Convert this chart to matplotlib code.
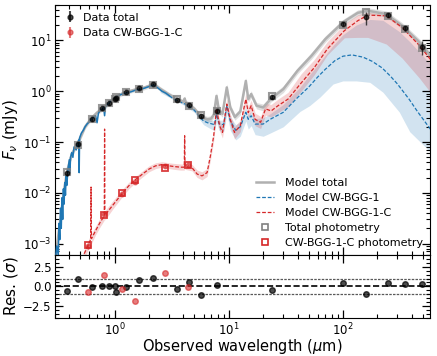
import numpy as np
import matplotlib
matplotlib.use("Agg")
import matplotlib.pyplot as plt
from matplotlib.ticker import MultipleLocator, LogLocator, NullFormatter
from matplotlib.lines import Line2D

# ---- model: total (grey) ----
tot_mod_wl = [0.30, 0.33, 0.36, 0.38, 0.42, 0.48, 0.55, 0.62, 0.7, 0.78, 0.9, 1.0, 1.2, 1.5, 1.8,
              2.2, 2.5, 3.0, 3.5, 4.0, 4.1, 4.2, 4.5, 5.0, 5.5, 6.0, 6.5, 7.0, 7.4, 7.8, 8.2, 8.8,
              9.6, 10.3, 11.3, 12.6, 14.1, 14.8, 15.7, 17.5, 20, 23.5, 30, 40, 53, 70, 100, 135,
              165, 240, 330, 470, 620]
tot_mod = [4.5e-4, 2.5e-3, 0.011, 0.025, 0.058, 0.1, 0.2, 0.29, 0.38, 0.46, 0.6, 0.76, 0.93, 1.07, 1.17,
           1.38, 1.12, 0.86, 0.71, 0.62, 0.72, 0.6, 0.55, 0.45, 0.35, 0.3, 0.28, 0.29, 0.35, 0.81, 0.42, 0.36,
           1.19, 0.48, 0.31, 0.4, 1.6, 0.7, 0.88, 0.52, 0.48, 0.72, 1.1, 2.54, 5.0, 10.6, 22.8, 35,
           38.6, 33, 19.5, 9.2, 4.3]
tot_mod_lo = [3.8e-4, 2.1e-3, 0.0095, 0.022, 0.051, 0.088, 0.18, 0.26, 0.34, 0.41, 0.54, 0.69, 0.85, 0.97, 1.06,
              1.25, 1.01, 0.78, 0.64, 0.56, 0.64, 0.54, 0.49, 0.4, 0.31, 0.26, 0.245, 0.255, 0.3, 0.68, 0.36, 0.31,
              1.0, 0.41, 0.27, 0.34, 1.35, 0.6, 0.75, 0.45, 0.41, 0.62, 0.94, 2.2, 4.3, 9.2, 20, 31,
              34, 29, 17, 8.0, 3.7]
tot_mod_hi = [5.3e-4, 2.9e-3, 0.013, 0.028, 0.065, 0.112, 0.22, 0.32, 0.42, 0.51, 0.66, 0.84, 1.02, 1.18, 1.29,
              1.52, 1.24, 0.95, 0.79, 0.69, 0.81, 0.67, 0.61, 0.5, 0.39, 0.34, 0.32, 0.33, 0.4, 0.95, 0.48, 0.41,
              1.4, 0.55, 0.36, 0.46, 1.85, 0.8, 1.02, 0.6, 0.56, 0.83, 1.27, 2.9, 5.8, 12.3, 26, 40,
              44, 38, 22.5, 10.7, 5.0]

# ---- model: CW-BGG-1 (blue) ----
blue_wl = [0.30, 0.31, 0.32, 0.325, 0.33, 0.335, 0.34, 0.345, 0.35, 0.355, 0.36, 0.365, 0.37, 0.375,
           0.38, 0.39, 0.40, 0.405, 0.41, 0.42, 0.43, 0.44, 0.46, 0.47, 0.485, 0.488, 0.492, 0.51,
           0.53, 0.55, 0.575, 0.6, 0.65, 0.68, 0.7, 0.72, 0.75, 0.78, 0.8, 0.815, 0.83, 0.87, 0.9,
           0.95, 1.0, 1.1, 1.2, 1.3, 1.4, 1.5, 1.6, 1.7, 1.8, 2.0, 2.2, 2.4, 2.6, 2.8, 3.0,
           3.3, 3.6, 4.0, 4.5, 5.0, 5.5, 6.0, 6.5, 7.0, 7.5, 7.8, 8.2, 9.0, 9.6, 10.3, 11.5,
           12.6, 14.1, 14.8, 15.7, 17, 20, 23, 30, 40, 50, 60, 70, 85, 100, 120, 150, 180, 220,
           260, 300, 380, 450, 620]
blue_mod = [4e-4, 9e-4, 6e-4, 2.5e-3, 1.2e-3, 5e-3, 2e-3, 8e-3, 3e-3, 0.012, 0.006, 0.016, 0.009, 0.022,
            0.014, 0.03, 0.045, 0.025, 0.05, 0.062, 0.05, 0.08, 0.07, 0.095, 0.11, 0.025, 0.12, 0.15,
            0.17, 0.2, 0.23, 0.25, 0.31, 0.33, 0.24, 0.37, 0.42, 0.45, 0.48, 0.33, 0.5, 0.56, 0.6,
            0.68, 0.75, 0.84, 0.9, 0.94, 0.98, 1.04, 1.08, 1.1, 1.14, 1.24, 1.33, 1.15, 1.0, 0.92, 0.82,
            0.7, 0.64, 0.58, 0.51, 0.42, 0.32, 0.26, 0.24, 0.23, 0.22, 0.355, 0.23, 0.22, 0.52, 0.26, 0.17,
            0.2, 0.385, 0.28, 0.33, 0.226, 0.226, 0.28, 0.385, 0.75, 1.2, 1.9, 2.7, 4.0, 4.9, 5.2, 4.7, 3.9, 2.9,
            2.0, 1.4, 0.7, 0.4, 0.15]
blue_band_wl = [2.5, 3.0, 4.0, 5.0, 6.0, 7.0, 7.5, 7.8, 8.2, 9.0, 9.6, 10.3, 11.5, 12.6, 14.1, 14.8,
                15.7, 17, 20, 23, 30, 42, 51, 63, 82, 100, 130, 172, 224, 312, 385, 550, 620]
blue_lo = [0.95, 0.76, 0.54, 0.38, 0.22, 0.18, 0.17, 0.25, 0.17, 0.16, 0.36, 0.17, 0.11, 0.13, 0.26, 0.18,
           0.21, 0.14, 0.13, 0.15, 0.2, 0.4, 0.52, 0.77, 1.39, 1.6, 1.6, 1.5, 0.96, 0.39, 0.16, 0.073, 0.055]
blue_hi = [1.1, 0.88, 0.62, 0.45, 0.29, 0.27, 0.26, 0.42, 0.27, 0.27, 0.6, 0.31, 0.22, 0.25, 0.48, 0.34,
           0.4, 0.29, 0.3, 0.36, 0.55, 1.2, 2.1, 3.8, 8.0, 13, 20, 26, 25, 15, 9.5, 4.0, 3.0]

# ---- model: CW-BGG-1-C (red) ----
red_mod_wl = [0.50, 0.54, 0.585, 0.615, 0.62, 0.625, 0.68, 0.75, 0.81, 0.815, 0.82, 0.955, 1.17, 1.33,
              1.5, 1.75, 2.0, 2.28, 2.6, 3.0, 3.3, 3.77, 4.07, 4.1, 4.13, 4.77, 5.28, 5.82, 6.45, 6.9,
              7.37, 7.8, 8.3, 8.8, 9.6, 10.3, 11.2, 12.6, 14.1, 14.8, 15.7, 17, 19, 21, 23.5, 27, 33,
              43, 56, 73, 103, 135, 165, 240, 330, 470, 620]
red_mod = [3.0e-4, 6.3e-4, 9.4e-4, 1.2e-3, 0.013, 1.25e-3, 1.8e-3, 2.7e-3, 3.5e-3, 0.18, 3.6e-3, 5.6e-3, 9.9e-3, 0.0138,
           0.0178, 0.0234, 0.0294, 0.034, 0.036, 0.034, 0.033, 0.032, 0.032, 0.133, 0.033, 0.031, 0.0234, 0.0216, 0.025, 0.054,
           0.133, 0.45, 0.21, 0.155, 0.56, 0.28, 0.155, 0.21, 0.70, 0.38, 0.52, 0.28, 0.245, 0.45, 0.41, 0.52, 0.70,
           1.45, 2.9, 6.8, 15.6, 24.5, 31.6, 30.6, 18.1, 7.9, 3.6]
red_lo = [2.2e-4, 5e-4, 7.5e-4, 1e-3, 0.01, 1e-3, 1.5e-3, 2.2e-3, 2.9e-3, 0.14, 2.9e-3, 4.7e-3, 8.5e-3, 0.012,
          0.0155, 0.0205, 0.026, 0.030, 0.032, 0.030, 0.029, 0.028, 0.028, 0.11, 0.029, 0.027, 0.020, 0.018, 0.021, 0.044,
          0.105, 0.36, 0.165, 0.12, 0.44, 0.21, 0.115, 0.16, 0.55, 0.29, 0.4, 0.21, 0.185, 0.34, 0.31, 0.38, 0.5,
          1.0, 2.1, 5.2, 11.3, 11.5, 11.5, 8.5, 4.5, 1.8, 0.8]
red_hi = [3.8e-4, 7.8e-4, 1.15e-3, 1.5e-3, 0.017, 1.55e-3, 2.2e-3, 3.3e-3, 4.3e-3, 0.23, 4.4e-3, 6.8e-3, 0.0118, 0.0162,
          0.0205, 0.027, 0.034, 0.039, 0.041, 0.039, 0.038, 0.037, 0.037, 0.16, 0.038, 0.036, 0.028, 0.026, 0.03, 0.066,
          0.165, 0.56, 0.27, 0.2, 0.72, 0.36, 0.2, 0.27, 0.9, 0.5, 0.67, 0.37, 0.32, 0.58, 0.55, 0.7, 0.95,
          2.2, 4.2, 9.5, 21, 32, 36, 32, 19.5, 9.0, 4.2]

# ---- photometry ----
tot_wl = [0.381, 0.478, 0.626, 0.775, 0.89, 1.0, 1.03, 1.26, 1.64, 2.16, 3.53, 4.5, 5.75, 7.9,
          23.8, 99.4, 159, 249, 348, 497]
tot_flux = [0.0245, 0.093, 0.284, 0.46, 0.578, 0.72, 0.74, 0.965, 1.14, 1.41, 0.68, 0.53, 0.32, 0.41,
            0.77, 21, 28.5, 31.6, 17.5, 7.5]
tot_err = [0.003, 0.008, 0.02, 0.03, 0.03, 0.04, 0.04, 0.05, 0.06, 0.07, 0.04, 0.03, 0.02, 0.03,
           0.06, 2.0, 8.0, 2.5, 2.0, 2.3]
tot_phot = [0.026, 0.088, 0.285, 0.46, 0.578, 0.71, 0.77, 0.97, 1.10, 1.33, 0.69, 0.52, 0.34, 0.40,
            0.80, 20.3, 36.8, 30.5, 17.0, 7.0]
tot_res = [-0.6, 1.0, -0.05, 0.0, 0.0, 0.1, -0.65, -0.1, 0.76, 1.07, -0.3, 0.5, -1.05, 0.2,
           -0.46, 0.43, -0.97, 0.47, 0.25, 0.3]

c_wl = [0.585, 0.806, 1.16, 1.50, 2.77, 4.42]
c_flux = [8.8e-4, 3.9e-3, 9.6e-3, 0.0165, 0.034, 0.0352]
c_err = [1e-4, 2e-4, 5e-4, 8e-4, 1.5e-3, 2e-3]
c_phot = [9.4e-4, 3.65e-3, 9.9e-3, 0.0178, 0.031, 0.0354]
c_res = [-0.7, 1.4, -0.38, -1.9, 1.74, -0.04]

BLUE = '#1f77b4'
RED = '#d62728'
GREY = '#b0b0b0'

fig = plt.figure(figsize=(4.37, 3.56), dpi=100)
ax = fig.add_axes([0.126, 0.284, 0.858, 0.702])
axr = fig.add_axes([0.126, 0.107, 0.858, 0.177], sharex=ax)

# bands
ax.fill_between(tot_mod_wl, tot_mod_lo, tot_mod_hi, color='grey', alpha=0.25, lw=0, zorder=1)
ax.fill_between(blue_band_wl, blue_lo, blue_hi, color=BLUE, alpha=0.2, lw=0, zorder=1)
ax.fill_between(red_mod_wl, red_lo, red_hi, color=RED, alpha=0.2, lw=0, zorder=1)

# models
ax.plot(tot_mod_wl, tot_mod, color=GREY, lw=1.8, zorder=2)
bw = np.array(blue_wl)
bm = np.array(blue_mod)
opt = bw <= 3.0
ax.plot(bw[opt], bm[opt], color=BLUE, lw=1.1, zorder=3)
ax.plot(bw[bw >= 3.0], bm[bw >= 3.0], color=BLUE, ls='--', lw=0.9, dashes=(3, 1.5), zorder=3)
ax.plot(red_mod_wl, red_mod, color=RED, ls='--', lw=0.9, dashes=(3, 1.5), zorder=3)

# photometry
ax.plot(tot_wl, tot_phot, ls='none', marker='s', ms=5, mfc='none', mec='grey', mew=1.5, alpha=0.8, zorder=4)
ax.plot(c_wl, c_phot, ls='none', marker='s', ms=5, mfc='none', mec=RED, mew=1.3, alpha=0.9, zorder=4)
ax.errorbar(tot_wl, tot_flux, yerr=tot_err, fmt='o', ms=3.2, color='k', ecolor='k', elinewidth=1,
            alpha=0.7, zorder=5)
ax.errorbar(c_wl, c_flux, yerr=c_err, fmt='o', ms=3.2, color=RED, ecolor=RED, elinewidth=1,
            alpha=0.6, zorder=5)

ax.set_xscale('log')
ax.set_yscale('log')
ax.set_xlim(0.3, 580)
ax.set_ylim(6e-4, 50)
ax.set_ylabel(r'$F_\nu$ (mJy)', fontsize=11, labelpad=2)
ax.tick_params(labelbottom=False)

# legends
eh1 = ax.errorbar([], [], yerr=[], fmt='o', ms=3.5, color='k', alpha=0.7)
eh2 = ax.errorbar([], [], yerr=[], fmt='o', ms=3.5, color=RED, alpha=0.6)
leg1 = ax.legend([eh1, eh2], ['Data total', 'Data CW-BGG-1-C'], loc='upper left', frameon=False,
                 fontsize=8, handlelength=1.2, handletextpad=0.6, borderaxespad=0.3, labelspacing=0.5)
ax.add_artist(leg1)
hs = [Line2D([], [], color=GREY, lw=1.8),
      Line2D([], [], color=BLUE, ls='--', lw=0.9, dashes=(3, 1.5)),
      Line2D([], [], color=RED, ls='--', lw=0.9, dashes=(3, 1.5)),
      Line2D([], [], ls='none', marker='s', ms=4, mfc='none', mec='grey', mew=1.2),
      Line2D([], [], ls='none', marker='s', ms=4, mfc='none', mec=RED, mew=1.2)]
ax.legend(hs, ['Model total', 'Model CW-BGG-1', 'Model CW-BGG-1-C', 'Total photometry',
               'CW-BGG-1-C photometry'], loc='lower right', frameon=False, fontsize=8,
          handlelength=1.6, handletextpad=1.0, borderaxespad=0.2, labelspacing=0.45)

# residuals
axr.axhline(0, color='k', ls='--', lw=1.2, zorder=1)
axr.axhline(1, color='0.35', ls=(0, (2, 1)), lw=0.9, zorder=1)
axr.axhline(-1, color='0.35', ls=(0, (2, 1)), lw=0.9, zorder=1)
axr.plot(tot_wl, tot_res, ls='none', marker='o', ms=4, color='k', alpha=0.7, zorder=3)
axr.plot(c_wl, c_res, ls='none', marker='o', ms=4, color=RED, alpha=0.6, zorder=3)
axr.set_ylim(-4, 4)
axr.yaxis.set_major_locator(MultipleLocator(2.5))
axr.yaxis.set_minor_locator(MultipleLocator(0.5))
axr.set_ylabel(r'Res. ($\sigma$)', fontsize=11, labelpad=2)
axr.set_xlabel(r'Observed wavelength ($\mu$m)', fontsize=10.5, labelpad=-1)

for a in (ax, axr):
    a.tick_params(which='both', direction='in', top=True, right=True, labelsize=8.5, pad=2.5)
    a.tick_params(which='major', length=6, width=0.9)
    a.tick_params(which='minor', length=3, width=0.8)
ax.yaxis.set_minor_locator(LogLocator(base=10, subs=np.arange(2, 10), numticks=20))
ax.yaxis.set_minor_formatter(NullFormatter())

fig.savefig('out.png', dpi=100)
